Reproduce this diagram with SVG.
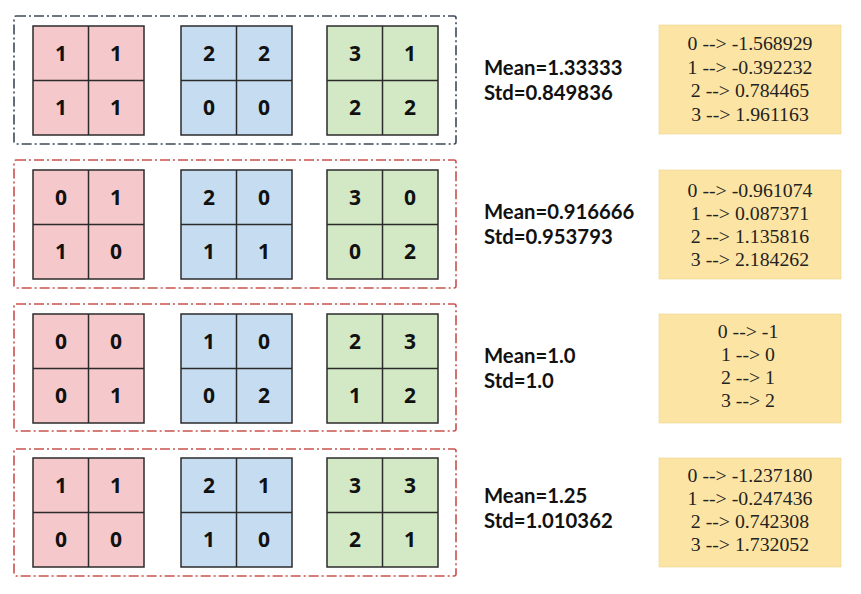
<svg xmlns="http://www.w3.org/2000/svg" width="861" height="594" viewBox="0 0 861 594">
<style>
.bg{fill:#ffffff}
.frame{fill:none;stroke-width:1.6;stroke-dasharray:10 3 2 3}
.f1{stroke:#3e4959}
.f2{stroke:#c9514e}
.pink{fill:#f5c8cc}
.blue{fill:#c6dcf0}
.green{fill:#d3e9c5}
.cell{stroke:#2b2b2b;stroke-width:1.5}
.sep{stroke:#2b2b2b;stroke-width:1.5}
.d{font-family:"Open Sans","Liberation Sans",sans-serif;font-weight:bold;font-size:21px;fill:#111;text-anchor:middle}
.stat{font-family:Lato,"Open Sans","Liberation Sans",sans-serif;font-weight:bold;font-size:20.3px;fill:#111}
.note{fill:#fce5a4;stroke:#ecd38c;stroke-width:0.6}
.m{font-family:"Liberation Serif","Times New Roman",serif;font-size:19.8px;fill:#222;text-anchor:middle}
</style>
<defs>
<g id="lines">
<line class="sep" x1="55.5" y1="0" x2="55.5" y2="109"/>
<line class="sep" x1="0" y1="54.5" x2="111" y2="54.5"/>
</g>
</defs>
<rect class="bg" x="0" y="0" width="861" height="594"/>

<g id="row1">
<rect class="frame f1" x="14" y="16" width="442" height="128" rx="2"/>
<g id="r1-pink" transform="translate(33,26)">
<rect class="pink cell" x="0" y="0" width="111" height="109"/><use href="#lines"/>
<text class="d" x="28" y="35">1</text><text class="d" x="83" y="35">1</text>
<text class="d" x="28" y="89">1</text><text class="d" x="83" y="89">1</text>
</g>
<g id="r1-blue" transform="translate(181,26)">
<rect class="blue cell" x="0" y="0" width="111" height="109"/><use href="#lines"/>
<text class="d" x="28" y="35">2</text><text class="d" x="83" y="35">2</text>
<text class="d" x="28" y="89">0</text><text class="d" x="83" y="89">0</text>
</g>
<g id="r1-green" transform="translate(327,26)">
<rect class="green cell" x="0" y="0" width="111" height="109"/><use href="#lines"/>
<text class="d" x="28" y="35">3</text><text class="d" x="83" y="35">1</text>
<text class="d" x="28" y="89">2</text><text class="d" x="83" y="89">2</text>
</g>
<g id="r1-stats">
<text class="stat" x="484" y="75">Mean=1.33333</text>
<text class="stat" x="484" y="100">Std=0.849836</text>
</g>
<g id="r1-map">
<rect class="note" x="659" y="25" width="182" height="109"/>
<text class="m" x="750" y="50">0 --&gt; -1.568929</text>
<text class="m" x="750" y="73.5">1 --&gt; -0.392232</text>
<text class="m" x="750" y="97">2 --&gt; 0.784465</text>
<text class="m" x="750" y="120.5">3 --&gt; 1.961163</text>
</g>
</g>

<g id="row2">
<rect class="frame f2" x="14" y="160" width="442" height="128" rx="2"/>
<g id="r2-pink" transform="translate(33,170)">
<rect class="pink cell" x="0" y="0" width="111" height="109"/><use href="#lines"/>
<text class="d" x="28" y="35">0</text><text class="d" x="83" y="35">1</text>
<text class="d" x="28" y="89">1</text><text class="d" x="83" y="89">0</text>
</g>
<g id="r2-blue" transform="translate(181,170)">
<rect class="blue cell" x="0" y="0" width="111" height="109"/><use href="#lines"/>
<text class="d" x="28" y="35">2</text><text class="d" x="83" y="35">0</text>
<text class="d" x="28" y="89">1</text><text class="d" x="83" y="89">1</text>
</g>
<g id="r2-green" transform="translate(327,170)">
<rect class="green cell" x="0" y="0" width="111" height="109"/><use href="#lines"/>
<text class="d" x="28" y="35">3</text><text class="d" x="83" y="35">0</text>
<text class="d" x="28" y="89">0</text><text class="d" x="83" y="89">2</text>
</g>
<g id="r2-stats">
<text class="stat" x="484" y="219">Mean=0.916666</text>
<text class="stat" x="484" y="244">Std=0.953793</text>
</g>
<g id="r2-map">
<rect class="note" x="659" y="170" width="182" height="109"/>
<text class="m" x="750" y="197">0 --&gt; -0.961074</text>
<text class="m" x="750" y="220">1 --&gt; 0.087371</text>
<text class="m" x="750" y="243">2 --&gt; 1.135816</text>
<text class="m" x="750" y="266">3 --&gt; 2.184262</text>
</g>
</g>

<g id="row3">
<rect class="frame f2" x="14" y="304" width="442" height="127" rx="2"/>
<g id="r3-pink" transform="translate(33,314)">
<rect class="pink cell" x="0" y="0" width="111" height="109"/><use href="#lines"/>
<text class="d" x="28" y="35">0</text><text class="d" x="83" y="35">0</text>
<text class="d" x="28" y="89">0</text><text class="d" x="83" y="89">1</text>
</g>
<g id="r3-blue" transform="translate(181,314)">
<rect class="blue cell" x="0" y="0" width="111" height="109"/><use href="#lines"/>
<text class="d" x="28" y="35">1</text><text class="d" x="83" y="35">0</text>
<text class="d" x="28" y="89">0</text><text class="d" x="83" y="89">2</text>
</g>
<g id="r3-green" transform="translate(327,314)">
<rect class="green cell" x="0" y="0" width="111" height="109"/><use href="#lines"/>
<text class="d" x="28" y="35">2</text><text class="d" x="83" y="35">3</text>
<text class="d" x="28" y="89">1</text><text class="d" x="83" y="89">2</text>
</g>
<g id="r3-stats">
<text class="stat" x="484" y="363">Mean=1.0</text>
<text class="stat" x="484" y="388">Std=1.0</text>
</g>
<g id="r3-map">
<rect class="note" x="659" y="314" width="182" height="109"/>
<text class="m" x="748" y="338">0 --&gt; -1</text>
<text class="m" x="748" y="361">1 --&gt; 0</text>
<text class="m" x="748" y="384">2 --&gt; 1</text>
<text class="m" x="748" y="407">3 --&gt; 2</text>
</g>
</g>

<g id="row4">
<rect class="frame f2" x="14" y="449" width="442" height="127" rx="2"/>
<g id="r4-pink" transform="translate(33,458)">
<rect class="pink cell" x="0" y="0" width="111" height="109"/><use href="#lines"/>
<text class="d" x="28" y="35">1</text><text class="d" x="83" y="35">1</text>
<text class="d" x="28" y="89">0</text><text class="d" x="83" y="89">0</text>
</g>
<g id="r4-blue" transform="translate(181,458)">
<rect class="blue cell" x="0" y="0" width="111" height="109"/><use href="#lines"/>
<text class="d" x="28" y="35">2</text><text class="d" x="83" y="35">1</text>
<text class="d" x="28" y="89">1</text><text class="d" x="83" y="89">0</text>
</g>
<g id="r4-green" transform="translate(327,458)">
<rect class="green cell" x="0" y="0" width="111" height="109"/><use href="#lines"/>
<text class="d" x="28" y="35">3</text><text class="d" x="83" y="35">3</text>
<text class="d" x="28" y="89">2</text><text class="d" x="83" y="89">1</text>
</g>
<g id="r4-stats">
<text class="stat" x="484" y="503">Mean=1.25</text>
<text class="stat" x="484" y="528">Std=1.010362</text>
</g>
<g id="r4-map">
<rect class="note" x="659" y="458" width="182" height="109"/>
<text class="m" x="750" y="482">0 --&gt; -1.237180</text>
<text class="m" x="750" y="505">1 --&gt; -0.247436</text>
<text class="m" x="750" y="528">2 --&gt; 0.742308</text>
<text class="m" x="750" y="551">3 --&gt; 1.732052</text>
</g>
</g>
<g id="connectors"/>
</svg>
